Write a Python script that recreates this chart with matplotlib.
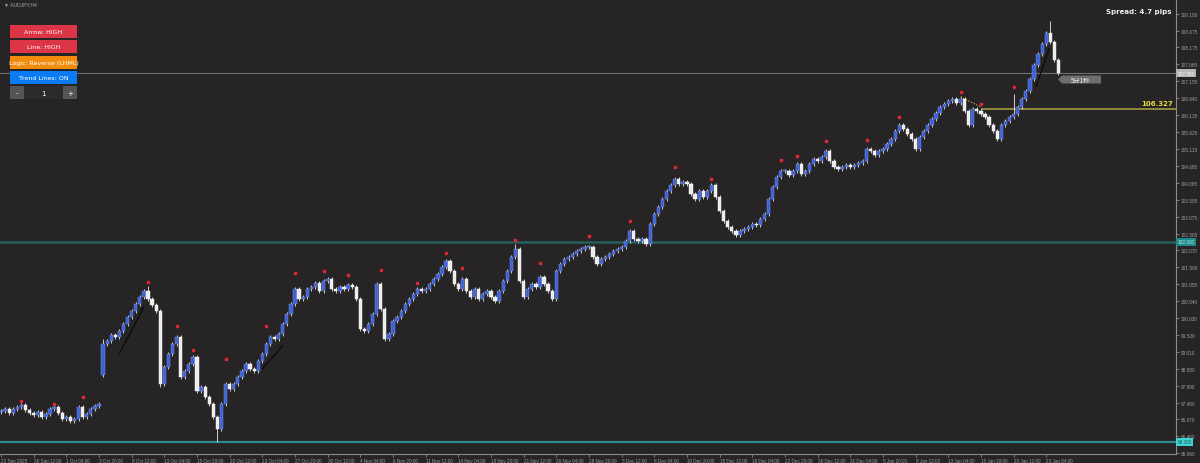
import matplotlib
matplotlib.use('Agg')
import matplotlib.pyplot as plt
from matplotlib.patches import Rectangle, Polygon
import numpy as np

# ---------------- data (each entry = two H4 bars) ----------------
closes = [
    97.23, 97.29, 97.17, 97.29, 97.35, 97.41, 97.26, 97.17,
    97.11, 97.20, 97.05, 97.14, 97.29, 97.35, 97.17, 96.99,
    97.05, 96.93, 96.99, 97.35, 97.05, 97.14, 97.29, 97.38,
    97.44, 99.25, 99.34, 99.52, 99.46, 99.64, 99.85, 100.06,
    100.24, 100.45, 100.66, 100.84, 100.60, 100.42, 100.24, 98.04,
    98.55, 98.94, 99.25, 99.46, 98.25, 98.43, 98.64, 98.85,
    97.83, 97.95, 97.65, 97.44, 97.05, 96.69, 97.44, 98.04,
    97.89, 98.04, 98.25, 98.43, 98.64, 98.49, 98.43, 98.73,
    98.94, 99.25, 99.46, 99.40, 99.55, 99.85, 100.15, 100.45,
    100.90, 100.60, 100.66, 100.90, 100.96, 101.08, 100.84, 101.14,
    101.20, 100.90, 100.84, 100.96, 100.90, 101.02, 100.96, 100.60,
    99.70, 99.64, 99.85, 100.15, 101.05, 100.30, 99.40, 99.55,
    99.94, 100.06, 100.24, 100.45, 100.60, 100.75, 100.90, 100.84,
    100.90, 101.05, 101.20, 101.35, 101.56, 101.74, 101.44, 101.05,
    100.90, 101.20, 100.84, 100.66, 100.90, 100.60, 100.75, 100.84,
    100.66, 100.54, 100.84, 101.14, 101.44, 101.86, 102.11, 101.14,
    100.66, 100.90, 101.05, 100.96, 101.26, 101.05, 100.84, 100.60,
    101.44, 101.65, 101.80, 101.86, 101.95, 102.04, 102.11, 102.16,
    102.16, 101.86, 101.65, 101.80, 101.86, 101.95, 102.04, 102.11,
    102.16, 102.35, 102.65, 102.41, 102.35, 102.41, 102.26, 102.86,
    103.16, 103.37, 103.61, 103.85, 104.03, 104.21, 104.06, 104.12,
    104.06, 103.76, 103.61, 103.85, 103.67, 103.85, 104.03, 103.67,
    103.25, 102.95, 102.77, 102.65, 102.53, 102.65, 102.71, 102.77,
    102.86, 102.83, 103.01, 103.16, 103.61, 103.97, 104.27, 104.45,
    104.45, 104.33, 104.45, 104.66, 104.36, 104.45, 104.66, 104.81,
    104.75, 104.87, 105.05, 104.75, 104.57, 104.51, 104.57, 104.63,
    104.57, 104.63, 104.69, 104.75, 105.12, 105.05, 104.93, 105.05,
    105.12, 105.27, 105.42, 105.66, 105.84, 105.72, 105.57, 105.42,
    105.12, 105.48, 105.66, 105.84, 106.02, 106.20, 106.38, 106.47,
    106.56, 106.62, 106.50, 106.62, 106.26, 105.84, 106.32, 106.26,
    106.17, 106.08, 105.84, 105.66, 105.42, 105.84, 105.96, 106.08,
    106.17, 106.38, 106.62, 106.86, 107.22, 107.64, 107.97, 108.28,
    108.60, 108.35, 107.80, 107.39,
]
first_open = 97.20
gap_opens = {25: 98.30}
high_marks = {25: 99.40, 36: 100.98, 126: 102.26, 235: 106.71, 248: 106.77, 257: 108.97}
low_marks = {39: 97.95, 53: 96.30}
wick_pad = 0.06

dot_idx = [5, 13, 20, 36, 43, 47, 55, 65, 72, 79, 85, 93, 102, 109, 113, 126, 132,
           144, 154, 165, 174, 191, 195, 202, 212, 220, 235, 240, 248]
dot_price = [97.53, 97.44, 97.65, 101.11, 99.79, 99.07, 98.79, 99.79, 101.38, 101.44,
             101.32, 101.47, 101.08, 101.98, 101.53, 102.38, 101.68, 102.50, 102.95,
             104.57, 104.21, 104.78, 104.90, 105.36, 105.39, 106.08, 106.83, 106.47, 106.98]

trend_x0 = [29, 64, 253.5]
trend_p0 = [98.95, 98.49, 107.00]
trend_x1 = [35, 69, 256.7]
trend_p1 = [100.36, 99.19, 108.13]

date_labels = ['23 Sep 2025', '26 Sep 12:00', '1 Oct 04:00', '3 Oct 20:00', '8 Oct 12:00',
               '13 Oct 04:00', '15 Oct 20:00', '20 Oct 12:00', '23 Oct 04:00', '27 Oct 20:00',
               '30 Oct 12:00', '4 Nov 04:00', '6 Nov 20:00', '11 Nov 12:00', '14 Nov 04:00',
               '18 Nov 20:00', '21 Nov 12:00', '26 Nov 04:00', '28 Nov 20:00', '3 Dec 12:00',
               '8 Dec 04:00', '10 Dec 20:00', '15 Dec 12:00', '18 Dec 04:00', '22 Dec 20:00',
               '26 Dec 12:00', '31 Dec 04:00', '5 Jan 20:00', '8 Jan 12:00', '13 Jan 04:00',
               '15 Jan 20:00', '20 Jan 12:00', '23 Jan 04:00']
price_ticks = [109.180, 108.675, 108.175, 107.665, 107.155, 106.640, 106.135, 105.625,
               105.115, 104.605, 104.095, 103.585, 103.075, 102.565, 102.070, 101.560,
               101.050, 100.540, 100.030, 99.520, 99.010, 98.500, 97.990, 97.480,
               96.970, 96.460, 95.960]

current_price = 107.391
teal_level_1 = 102.320
teal_level_2 = 96.300
yellow_level = 106.327
yellow_start = 240
yellow_dash = ([235, 240], [106.68, 106.38])

buttons = ['Arrow: HIGH', 'Line: HIGH', 'Logic: Reverse (LHML)', 'Trend Lines: ON']
button_colors = ['#dc3545', '#dc3545', '#f28c0f', '#0b7bf4']

# ---------------- figure ----------------
BG = '#262425'
SMALL = 'Liberation Sans'
fig = plt.figure(figsize=(12, 4.64), dpi=100)
fig.patch.set_facecolor(BG)
ax = fig.add_axes([0, 9 / 464, 1176 / 1200, 455 / 464])
ax.set_facecolor(BG)

c = np.array(closes)
n = len(c)
x = np.arange(n)
o = np.r_[first_open, c[:-1]]
for k, v in gap_opens.items():
    o[k] = v
hi = np.maximum(o, c) + wick_pad
lo = np.minimum(o, c) - wick_pad
for k, v in high_marks.items():
    hi[k] = v
for k, v in low_marks.items():
    lo[k] = v
up = c >= o
h = c - o
h = np.where(np.abs(h) < 0.025, np.where(up, 0.025, -0.025), h)

ax.vlines(x, lo, hi, color='#cfcfcf', lw=0.7, zorder=2)
ax.bar(x[up], h[up], bottom=o[up], width=0.8, color='#3e62d6', edgecolor='#7f98ee',
       lw=0.3, zorder=3)
ax.bar(x[~up], h[~up], bottom=o[~up], width=0.8, color='#ececec', edgecolor='#ffffff',
       lw=0.3, zorder=3)

ax.scatter(dot_idx, dot_price, s=7, color='#e0263a', zorder=4, lw=0)
for a, b, cc, d in zip(trend_x0, trend_p0, trend_x1, trend_p1):
    ax.plot([a, cc], [b, d], color='#080808', lw=0.8, zorder=2.5)

xmax = (1176 - 1) / 4.083
ax.set_xlim(-1 / 4.083, xmax)
ax.set_ylim(95.93, 109.63)

ax.axhline(current_price, color='#6f6f6f', lw=0.8, zorder=1)
ax.axhline(teal_level_1, color='#245f5e', lw=1.8, zorder=1)
ax.axhline(teal_level_2, color='#2c8a8a', lw=1.6, zorder=1)
ax.hlines(yellow_level, yellow_start, xmax, color='#a39a45', lw=1.2, zorder=1)
ax.plot(yellow_dash[0], yellow_dash[1], color='#c8b84a', lw=0.7, ls=(0, (1.5, 1.5)), zorder=2)

# axes styling
for s in ['top', 'left']:
    ax.spines[s].set_visible(False)
for s in ['right', 'bottom']:
    ax.spines[s].set_color('#8c8c8c')
    ax.spines[s].set_linewidth(0.8)
ax.yaxis.tick_right()
ax.set_yticks(price_ticks)
ax.set_yticklabels([f'{v:.3f}' for v in price_ticks], family=SMALL)
ax.tick_params(axis='y', colors='#8c8c8c', labelcolor='#a0a0a0', labelsize=3.4,
               length=2.0, width=0.6, pad=1.2)
ax.set_xticks(np.arange(len(date_labels)) * 8)
ax.set_xticklabels(date_labels, ha='left', family=SMALL)
ax.tick_params(axis='x', colors='#8c8c8c', labelcolor='#a0a0a0', labelsize=3.3,
               length=2.5, width=0.6, pad=0.6)

ytr = ax.get_yaxis_transform()
for lvl, fg, bgc in [(current_price, '#f4f4f4', '#b5b5b5'),
                     (teal_level_1, '#b8e8e8', '#1f8a8a'),
                     (teal_level_2, '#1d5a5a', '#3fd4d4')]:
    ax.text(1.0015, lvl, f'{lvl:.3f}', transform=ytr, fontsize=3.4, family=SMALL,
            va='center', ha='left', color=fg, clip_on=False,
            bbox=dict(boxstyle='square,pad=0.3', fc=bgc, ec='none'))
ax.text(0.997, yellow_level + 0.18, f'{yellow_level:.3f}', transform=ytr, fontsize=5,
        fontweight='bold', va='center', ha='right', color='#e6dc3c')

# ---------------- overlay (pixel coordinates) ----------------
ov = fig.add_axes([0, 0, 1, 1])
ov.set_xlim(0, 1200)
ov.set_ylim(464, 0)
ov.axis('off')
ov.patch.set_alpha(0)

ov.text(4, 5, '\u25bc AUDJPY,H4', fontsize=3.6, color='#a8a8a8', va='center', ha='left',
        family=['Liberation Sans', 'DejaVu Sans'])
ov.text(1172, 12, 'Spread: 4.7 pips', fontsize=5, color='#f0f0f0', fontweight='bold',
        va='center', ha='right')

tops = [26, 41, 57, 72]
for t, lab, col in zip(tops, buttons, button_colors):
    box = Rectangle((10, t), 67, 12.5, fc=col, ec='none')
    ov.add_patch(box)
    tx = ov.text(43.5, t + 6.3, lab, fontsize=4.5, color='white', ha='center', va='center')
    tx.set_clip_path(box)
ov.add_patch(Rectangle((10, 87), 14, 13, fc='#555555', ec='none'))
ov.add_patch(Rectangle((24, 87), 39, 13, fc='#2c2a2b', ec='none'))
ov.add_patch(Rectangle((63, 87), 14, 13, fc='#555555', ec='none'))
ov.text(17, 93.5, '-', fontsize=5, color='white', ha='center', va='center')
ov.text(43, 93.5, '1', fontsize=5, color='white', ha='center', va='center')
ov.text(70, 93.5, '+', fontsize=5, color='white', ha='center', va='center')

# countdown tag
ov.add_patch(Polygon([[1058, 80.5], [1062, 76.5], [1101, 76.5], [1101, 84.5], [1062, 84.5]],
                     closed=True, fc='#6e6e6e', ec='none'))
ov.text(1081, 80.7, '5分1秒', fontsize=4.5, color='#f0f0f0', ha='center', va='center',
        family=['Noto Sans CJK SC', 'DejaVu Sans'])

fig.savefig('out.png', dpi=100, facecolor=BG)
